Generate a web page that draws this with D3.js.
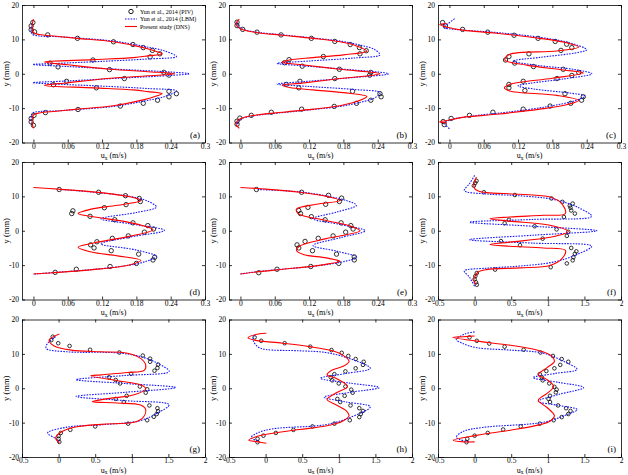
<!DOCTYPE html>
<html><head><meta charset="utf-8">
<script src="https://cdn.jsdelivr.net/npm/d3@7"></script>
<style>
body{margin:0;background:#fff}
svg{display:block}
text{font-family:"Liberation Serif","Times New Roman",serif;fill:#000}
</style>
</head><body><svg id="c" width="628" height="475"></svg>
<script>
// ---------- DATA ----------
const panelIds = ["a","b","c","d","e","f","g","h","i"];
const xTicksSmall = [0,0.06,0.12,0.18,0.24,0.3];
const xTickLabelsSmall = ["0","0.06","0.12","0.18","0.24","0.3"];
const xTicksLarge = [-0.5,0,0.5,1,1.5,2];
const xTickLabelsLarge = ["-0.5","0","0.5","1","1.5","2"];
const yTicks = [-20,-10,0,10,20];
const yTickLabels = ["-20","-10","0","10","20"];
const legendLabels = ["Yun et al., 2014 (PIV)","Yun et al., 2014 (LBM)","Present study (DNS)"];

// [u (m/s), y (mm)]
const piv_a = [[-0.001,14.9],[-0.004,13.9],[-0.004,12.8],[0.002,12.2],[0.025,11.3],[0.077,10.3],[0.140,9.3],[0.174,8.5],[0.192,7.6],[0.208,6.8],[0.221,5.8],[0.204,4.9],[0.104,4.0],[0.029,3.1],[0.043,2.0],[0.133,1.2],[0.228,0.4],[0.237,-0.4],[0.159,-1.4],[0.058,-2.2],[0.035,-3.2],[0.110,-4.1],[0.237,-5.1],[0.250,-5.8],[0.237,-6.7],[0.217,-7.7],[0.192,-8.6],[0.152,-9.4],[0.078,-10.4],[0.021,-11.3],[0.001,-12.1],[-0.004,-13.0],[-0.004,-14.0],[0.000,-15.0]];
const lbm_a = [[-0.002,14.5],[-0.004,13],[-0.002,11.5],[0.010,11.0],[0.040,10.8],[0.077,10.4],[0.140,9.5],[0.192,8.0],[0.230,6.6],[0.250,5.0],[0.200,4.3],[0.120,3.6],[0.040,3.0],[-0.001,2.7],[0.060,2.1],[0.160,1.2],[0.240,0.5],[0.273,0],[0.240,-0.5],[0.160,-1.2],[0.060,-2.1],[-0.001,-2.6],[0.040,-3.0],[0.120,-3.6],[0.200,-4.3],[0.250,-5.0],[0.230,-6.6],[0.192,-8.0],[0.140,-9.5],[0.077,-10.4],[0.040,-10.8],[0.010,-11.0],[-0.002,-11.5],[-0.004,-13],[-0.002,-14.5]];
const dns_a = [[0.000,15.9],[-0.002,14.5],[-0.002,13],[0.000,12.0],[0.010,11.4],[0.040,10.9],[0.077,10.3],[0.140,9.3],[0.192,7.6],[0.215,6.5],[0.225,5.8],[0.200,5.2],[0.175,4.7],[0.106,4.1],[0.019,3.4],[0.060,2.6],[0.134,1.3],[0.200,0.6],[0.247,0.0],[0.200,-0.6],[0.134,-1.3],[0.060,-2.6],[0.019,-3.4],[0.106,-4.1],[0.175,-4.7],[0.200,-5.2],[0.225,-5.8],[0.215,-6.5],[0.192,-7.6],[0.140,-9.3],[0.077,-10.3],[0.040,-10.9],[0.010,-11.4],[0.000,-12.0],[-0.002,-13],[-0.002,-14.5],[0.000,-15.9]];

const piv_b = [[-0.006,15.0],[-0.006,14.0],[0.004,12.9],[0.029,12.1],[0.071,11.3],[0.124,10.3],[0.165,9.4],[0.192,8.5],[0.208,7.6],[0.220,6.7],[0.209,5.8],[0.145,5.0],[0.085,4.1],[0.077,3.2],[0.108,2.2],[0.173,1.3],[0.228,0.4],[0.226,-0.4],[0.165,-1.4],[0.104,-2.2],[0.080,-3.1],[0.102,-4.1],[0.196,-5.1],[0.244,-5.8],[0.246,-6.7],[0.228,-7.7],[0.203,-8.6],[0.164,-9.5],[0.107,-10.3],[0.054,-11.2],[0.019,-12.1],[-0.001,-12.9],[-0.006,-13.8],[-0.006,-14.7]];
const lbm_b = [[-0.006,15.0],[-0.004,14],[0.003,13.0],[0.028,12.1],[0.074,11.3],[0.127,10.4],[0.174,9.5],[0.210,8.3],[0.235,7.0],[0.244,5.5],[0.200,4.6],[0.120,3.7],[0.064,3.0],[0.110,2.3],[0.190,1.2],[0.259,0],[0.190,-1.2],[0.110,-2.3],[0.064,-3.0],[0.120,-3.7],[0.200,-4.6],[0.244,-5.5],[0.235,-7.0],[0.210,-8.3],[0.174,-9.5],[0.127,-10.4],[0.074,-11.3],[0.028,-12.1],[0.003,-13.0],[-0.004,-14],[-0.006,-15.0]];
const dns_b = [[-0.002,15.9],[-0.008,14.4],[0.001,13.0],[0.028,12.0],[0.074,11.2],[0.127,10.3],[0.174,9.3],[0.203,8.1],[0.221,6.6],[0.180,5.5],[0.127,4.7],[0.086,4.0],[0.073,3.3],[0.104,2.7],[0.174,1.3],[0.244,0],[0.174,-1.4],[0.104,-2.8],[0.073,-3.3],[0.086,-4.0],[0.127,-4.7],[0.180,-5.5],[0.221,-6.6],[0.203,-8.1],[0.174,-9.3],[0.127,-10.3],[0.074,-11.2],[0.028,-12.0],[0.001,-13.0],[-0.008,-14.4],[-0.002,-15.9]];

const piv_c = [[-0.012,14.9],[-0.007,13.9],[0.023,12.9],[0.067,12.1],[0.113,11.2],[0.155,10.3],[0.185,9.4],[0.205,8.6],[0.214,7.6],[0.195,6.8],[0.139,5.8],[0.104,5.0],[0.098,4.0],[0.114,3.1],[0.147,2.1],[0.199,1.3],[0.226,0.4],[0.214,-0.5],[0.188,-1.4],[0.129,-2.2],[0.104,-3.1],[0.104,-4.1],[0.132,-4.9],[0.202,-5.8],[0.234,-6.7],[0.231,-7.7],[0.212,-8.6],[0.176,-9.4],[0.129,-10.3],[0.076,-11.2],[0.035,-12.1],[0.003,-13.0],[-0.011,-13.9],[-0.009,-14.8]];
const lbm_c = [[0.009,16.0],[-0.003,14.5],[-0.010,13.5],[0.010,12.9],[0.082,12.0],[0.158,10.6],[0.210,9.0],[0.240,7.0],[0.225,6.2],[0.160,4.8],[0.111,3.7],[0.150,2.5],[0.220,1.2],[0.249,0],[0.200,-1.5],[0.140,-2.8],[0.120,-3.5],[0.150,-4.5],[0.210,-5.6],[0.237,-6.5],[0.220,-7.8],[0.170,-9.6],[0.100,-11.2],[0.040,-12.3],[0.000,-13.5],[-0.008,-14.5],[0.000,-16.0]];
const dns_c = [[-0.005,14.6],[-0.017,14.3],[-0.005,13.6],[0.023,12.7],[0.082,11.8],[0.158,10.3],[0.205,9.0],[0.226,7.8],[0.188,6.6],[0.105,5.6],[0.097,4.0],[0.135,2.5],[0.200,1.1],[0.234,0.2],[0.180,-1.3],[0.105,-3.1],[0.096,-4.1],[0.105,-5.0],[0.188,-6.3],[0.226,-7.8],[0.205,-9.0],[0.158,-10.3],[0.082,-11.8],[0.023,-12.7],[-0.005,-13.6],[-0.017,-14.0],[-0.005,-14.3]];

const piv_d = [[0.045,12.0],[0.114,11.2],[0.161,10.2],[0.185,9.4],[0.187,8.5],[0.162,7.6],[0.124,6.7],[0.069,5.8],[0.067,5.0],[0.099,4.2],[0.142,3.2],[0.174,2.3],[0.200,1.5],[0.210,0.5],[0.194,-0.4],[0.166,-1.5],[0.138,-2.2],[0.111,-3.2],[0.100,-4.1],[0.106,-5.0],[0.136,-5.8],[0.184,-6.8],[0.212,-7.7],[0.209,-8.5],[0.180,-9.5],[0.134,-10.4],[0.075,-11.2],[0.038,-12.1]];
const lbm_d = [[0.050,12.0],[0.118,11.0],[0.171,9.9],[0.200,8.6],[0.215,6.9],[0.180,5.3],[0.118,3.5],[0.170,2.0],[0.229,0.1],[0.170,-1.8],[0.118,-3.8],[0.180,-5.6],[0.215,-7.5],[0.195,-9.0],[0.160,-10.2],[0.100,-11.3],[0.040,-12.1],[0,-12.6]];
const dns_d = [[0,12.6],[0.043,12.1],[0.118,11.1],[0.171,9.8],[0.188,8.8],[0.147,7.4],[0.101,6.3],[0.078,5.0],[0.107,4.0],[0.165,2.5],[0.209,0.3],[0.165,-1.7],[0.107,-3.5],[0.078,-4.8],[0.101,-6.2],[0.147,-7.3],[0.188,-8.6],[0.171,-9.8],[0.118,-11.1],[0.043,-12.1],[0,-12.6]];

const piv_e = [[0.028,12.0],[0.107,11.2],[0.154,10.3],[0.177,9.5],[0.173,8.5],[0.149,7.7],[0.118,6.8],[0.102,5.9],[0.105,5.0],[0.124,4.1],[0.148,3.2],[0.176,2.3],[0.193,1.5],[0.197,0.5],[0.184,-0.4],[0.162,-1.5],[0.136,-2.2],[0.113,-3.1],[0.099,-4.1],[0.102,-5.0],[0.126,-5.8],[0.168,-6.8],[0.199,-7.6],[0.199,-8.5],[0.172,-9.5],[0.123,-10.4],[0.064,-11.2],[0.032,-12.2]];
const lbm_e = [[0.030,12.0],[0.104,11.3],[0.151,10.1],[0.185,8.8],[0.203,7.4],[0.170,5.5],[0.127,3.5],[0.175,1.8],[0.218,0],[0.175,-2.0],[0.127,-4.3],[0.170,-6.0],[0.203,-7.7],[0.180,-9.0],[0.130,-10.3],[0.065,-11.3],[0.020,-12.1],[0,-12.6]];
const dns_e = [[0,12.6],[0.045,12.1],[0.104,11.2],[0.151,10.0],[0.174,8.8],[0.133,7.7],[0.098,6.3],[0.101,5.0],[0.150,3.0],[0.195,1.2],[0.209,0],[0.150,-2.3],[0.103,-4.5],[0.098,-5.7],[0.110,-6.9],[0.150,-7.9],[0.174,-8.9],[0.140,-10.0],[0.075,-11.2],[0.033,-11.9],[0,-12.6]];

const piv_f = [[0.026,14.5],[0.008,13.9],[-0.01,13.1],[0.126,11.2],[0.55,10.4],[1.05,9.4],[1.20,8.4],[1.34,7.9],[1.30,7.3],[1.31,6.7],[1.32,5.9],[1.37,5.0],[1.22,4.0],[0.47,3.2],[0.41,2.2],[0.82,1.3],[1.12,0.4],[1.28,-0.3],[1.26,-1.5],[0.93,-2.3],[0.36,-3.0],[0.62,-4.2],[1.32,-5.0],[1.39,-6.0],[1.37,-6.7],[1.35,-7.7],[1.34,-8.6],[1.26,-9.5],[1.04,-10.6],[0.28,-11.3],[0.03,-12.3],[0.01,-13.2],[0.0,-14.1],[0.02,-15.0],[0.03,-15.7]];
const lbm_f = [[0.0,16.1],[-0.07,13.7],[-0.14,11.7],[0.16,10.7],[0.60,10.2],[1.08,9.1],[1.40,6.9],[1.60,4.2],[0.80,3.3],[-0.07,2.5],[0.80,1.3],[1.67,0],[0.80,-1.3],[-0.07,-2.6],[0.80,-3.6],[1.60,-4.5],[1.40,-6.9],[1.08,-9.1],[0.60,-10.3],[0.16,-10.9],[-0.14,-11.7],[-0.07,-13.5],[0.0,-16.2]];
const dns_f = [[0.026,15.6],[-0.01,13.7],[0.003,12.2],[0.060,11.5],[0.163,11.1],[0.62,10.6],[1.03,9.8],[1.19,7.9],[1.24,5.0],[0.94,4.5],[0.48,4.0],[0.21,3.5],[0.48,2.8],[1.03,1.6],[1.28,-0.2],[1.03,-1.9],[0.48,-3.3],[0.21,-4.0],[0.48,-4.5],[0.94,-5.0],[1.24,-5.7],[1.19,-8.2],[1.03,-10.1],[0.62,-10.8],[0.163,-11.3],[0.05,-12.0],[0.0,-13.5],[-0.01,-14.6],[0.02,-15.6]];

const piv_g = [[-0.08,15.0],[-0.10,14.0],[-0.005,13.1],[0.15,12.3],[0.43,11.2],[0.83,10.4],[1.15,9.5],[1.25,8.6],[1.25,7.7],[1.36,6.9],[1.35,5.9],[1.31,5.1],[0.99,4.2],[0.69,3.2],[0.78,2.4],[0.84,1.4],[1.11,0.5],[1.21,-0.3],[1.19,-1.3],[0.93,-2.2],[0.78,-3.1],[0.89,-4.0],[1.24,-5.0],[1.35,-5.8],[1.36,-6.7],[1.34,-7.5],[1.30,-8.3],[1.21,-9.3],[0.95,-10.3],[0.50,-11.1],[0.16,-12.1],[0.03,-13.0],[0.00,-13.9],[0.00,-14.7],[0.01,-15.6]];
const lbm_g = [[-0.04,15.0],[-0.15,13.1],[-0.17,11.6],[0.12,10.6],[0.80,10.3],[1.12,9.2],[1.35,7.3],[1.51,4.9],[0.90,3.7],[0.24,2.5],[0.90,1.4],[1.60,0.2],[0.90,-1.2],[0.24,-2.4],[0.90,-3.6],[1.51,-4.8],[1.35,-7.2],[1.12,-9.4],[0.60,-10.6],[0.12,-11.3],[-0.15,-13.0],[-0.05,-14.5],[0.01,-15.5]];
const dns_g = [[0.01,15.8],[-0.13,14.0],[-0.06,12.3],[0.17,11.1],[0.58,10.6],[0.94,10.2],[1.12,8.7],[1.19,6.8],[1.17,5.2],[0.94,4.6],[0.58,3.9],[0.44,3.6],[0.80,2.2],[1.12,1.0],[1.19,-0.2],[1.03,-1.9],[0.65,-3.1],[0.46,-3.9],[0.80,-4.3],[1.12,-4.9],[1.19,-6.2],[1.15,-8.6],[1.03,-9.9],[0.58,-10.5],[0.20,-11.4],[0.03,-12.8],[-0.04,-14.4],[0.01,-15.9]];

const piv_h = [[-0.15,14.8],[-0.06,13.8],[0.26,13.1],[0.61,12.1],[0.90,11.1],[1.04,10.3],[1.13,9.4],[1.23,8.5],[1.34,7.7],[1.33,6.8],[1.23,5.8],[1.09,4.9],[0.94,4.1],[0.89,3.2],[0.91,2.3],[1.00,1.4],[1.09,0.5],[1.17,-0.4],[1.19,-1.3],[1.08,-2.2],[0.98,-3.1],[1.02,-4.0],[1.16,-5.0],[1.28,-5.8],[1.33,-6.6],[1.30,-7.5],[1.28,-8.4],[1.15,-9.3],[0.94,-10.3],[0.64,-11.1],[0.38,-12.1],[0.14,-13.0],[-0.03,-13.8],[-0.11,-14.7],[-0.11,-15.7]];
const lbm_h = [[-0.15,15.5],[-0.17,14.0],[-0.11,12.1],[0.0,11.3],[0.46,10.9],[0.82,10.4],[1.14,8.7],[1.43,5.8],[1.10,4.3],[0.75,2.9],[1.15,1.5],[1.55,0.2],[1.15,-1.2],[0.80,-2.6],[1.10,-4.0],[1.43,-5.4],[1.14,-8.6],[0.82,-10.6],[0.10,-11.8],[-0.11,-13.0],[-0.20,-14.4],[-0.10,-15.3]];
const dns_h = [[0.01,16.0],[-0.10,15.8],[-0.24,14.7],[-0.15,14.0],[0.23,13.1],[0.60,12.1],[0.91,10.9],[1.05,9.7],[1.14,7.8],[1.05,6.3],[0.91,5.3],[0.84,3.9],[0.96,2.9],[1.12,0.5],[0.96,-1.4],[0.84,-3.3],[0.96,-4.8],[1.10,-6.5],[1.14,-8.0],[1.05,-9.6],[0.82,-11.0],[0.46,-12.0],[0.10,-13.1],[-0.13,-14.1],[-0.23,-15.1],[-0.10,-15.6],[0.01,-16.0]];

const piv_i = [[-0.07,14.8],[0.03,13.8],[0.20,13.0],[0.41,12.1],[0.67,11.2],[0.90,10.4],[1.07,9.4],[1.19,8.5],[1.28,7.7],[1.17,6.8],[1.09,5.8],[0.98,5.0],[0.89,4.1],[0.92,3.1],[0.93,2.3],[1.02,1.4],[1.09,0.4],[1.12,-0.4],[1.11,-1.2],[1.03,-2.2],[1.01,-3.1],[1.03,-4.0],[1.14,-5.0],[1.25,-5.8],[1.31,-6.6],[1.28,-7.5],[1.19,-8.4],[1.08,-9.3],[0.89,-10.3],[0.63,-11.1],[0.39,-12.0],[0.18,-13.0],[0.00,-13.8],[-0.10,-14.7],[-0.11,-15.7]];
const lbm_i = [[0.0,16.4],[-0.13,15.8],[-0.25,14.2],[-0.16,13.0],[0.03,11.8],[0.49,11.1],[0.94,10.2],[1.22,7.8],[1.40,5.5],[1.10,4.3],[0.80,3.1],[1.15,1.7],[1.49,0.2],[1.15,-1.8],[0.87,-3.8],[1.15,-5.0],[1.40,-6.2],[1.22,-8.0],[0.94,-9.9],[0.11,-11.4],[-0.16,-12.6],[-0.25,-14.3],[-0.07,-15.7]];
const dns_i = [[0.0,15.2],[-0.15,15.0],[-0.30,14.8],[0.03,13.7],[0.49,12.5],[0.85,11.1],[1.03,9.7],[1.09,7.8],[0.99,6.0],[0.87,3.9],[0.99,2.5],[1.08,0.5],[0.99,-1.5],[0.87,-3.5],[0.99,-5.6],[1.09,-8.0],[1.03,-9.6],[0.85,-10.8],[0.49,-12.2],[0.03,-13.7],[-0.29,-15.1],[-0.15,-15.6],[0.0,-15.6]];

const pivAll = [piv_a,piv_b,piv_c,piv_d,piv_e,piv_f,piv_g,piv_h,piv_i];
const lbmAll = [lbm_a,lbm_b,lbm_c,lbm_d,lbm_e,lbm_f,lbm_g,lbm_h,lbm_i];
const dnsAll = [dns_a,dns_b,dns_c,dns_d,dns_e,dns_f,dns_g,dns_h,dns_i];

// ---------- LAYOUT ----------
const colLeft = [22, 229, 438];
const rowTop = [5, 162, 319.5];
const W = 183, H = 137.5;
const RED = "#ff0000", BLUE = "#1a1aff";

const svg = d3.select("#c");
svg.append("rect").attr("width",628).attr("height",475).attr("fill","#fff");

panelIds.forEach((id, i) => {
  const col = i % 3, row = Math.floor(i / 3);
  const large = i >= 5;
  const x = d3.scaleLinear().domain(large ? [-0.5, 2] : [-0.02, 0.3]).range([0, W]);
  const y = d3.scaleLinear().domain([-20, 20]).range([H, 0]);
  const ticksX = large ? xTicksLarge : xTicksSmall;
  const labsX = large ? xTickLabelsLarge : xTickLabelsSmall;

  const g = svg.append("g").attr("transform", `translate(${colLeft[col]},${rowTop[row]})`);
  g.append("clipPath").attr("id", "cp" + id).append("rect").attr("width", W).attr("height", H);
  const plot = g.append("g").attr("clip-path", `url(#cp${id})`);

  const line = d3.line().x(d => x(d[0])).y(d => y(d[1])).curve(d3.curveCatmullRom.alpha(0.5));

  const r = large ? 1.8 : 2.2;
  plot.selectAll("circle.piv").data(pivAll[i]).join("circle")
    .attr("class","piv").attr("cx", d => x(d[0])).attr("cy", d => y(d[1])).attr("r", r)
    .attr("fill","none").attr("stroke","#000").attr("stroke-width",0.8);
  plot.append("path").datum(lbmAll[i]).attr("d", line)
    .attr("fill","none").attr("stroke",BLUE).attr("stroke-width",1.1).attr("stroke-dasharray","1.6,1.2");
  plot.append("path").datum(dnsAll[i]).attr("d", line)
    .attr("fill","none").attr("stroke",RED).attr("stroke-width",1.1);

  // axes
  const fmtX = d => labsX[ticksX.indexOf(d)];
  const fmtY = d => yTickLabels[yTicks.indexOf(d)];
  const ax = g.append("g").attr("transform",`translate(0,${H})`)
    .call(d3.axisBottom(x).tickValues(ticksX).tickFormat(fmtX).tickSizeInner(-3).tickSizeOuter(0).tickPadding(1));
  const at = g.append("g")
    .call(d3.axisTop(x).tickValues(ticksX).tickFormat("").tickSizeInner(-3).tickSizeOuter(0));
  const al = g.append("g")
    .call(d3.axisLeft(y).tickValues(yTicks).tickFormat(fmtY).tickSizeInner(-3).tickSizeOuter(0).tickPadding(3));
  const ar = g.append("g").attr("transform",`translate(${W},0)`)
    .call(d3.axisRight(y).tickValues(yTicks).tickFormat("").tickSizeInner(-3).tickSizeOuter(0));
  [ax,at,al,ar].forEach(a => {
    a.select(".domain").attr("stroke","#000").attr("stroke-width",0.8);
    a.selectAll(".tick line").attr("stroke","#000").attr("stroke-width",0.8);
    a.selectAll("text").attr("font-size",7.5).attr("font-family",'"Liberation Serif",serif').attr("fill","#000");
  });

  // axis labels
  const xl = g.append("text").attr("x", W/2).attr("y", H + 15.5).attr("text-anchor","middle").attr("font-size",8);
  xl.append("tspan").text("u");
  xl.append("tspan").attr("font-size",5.5).attr("dy",1.8).text("x");
  xl.append("tspan").attr("dy",-1.8).text(" (m/s)");
  g.append("text").attr("transform",`translate(-13,${H/2}) rotate(-90)`)
    .attr("text-anchor","middle").attr("font-size",8.5).text("y (mm)");

  // panel label
  g.append("text").attr("x", W - 5).attr("y", H - 5).attr("text-anchor","end").attr("font-size",9).text(`(${id})`);

  // legend in panel (a)
  if (i === 0) {
    const lg = g.append("g");
    const rows = [6.5, 14, 21.5];
    const lx0 = 103, lx1 = 115, tx = 118;
    lg.append("circle").attr("cx",(lx0+lx1)/2).attr("cy",rows[0]).attr("r",2.2)
      .attr("fill","none").attr("stroke","#000").attr("stroke-width",0.9);
    lg.append("line").attr("x1",lx0).attr("x2",lx1).attr("y1",rows[1]).attr("y2",rows[1])
      .attr("stroke",BLUE).attr("stroke-width",1.1).attr("stroke-dasharray","1.6,1.2");
    lg.append("line").attr("x1",lx0).attr("x2",lx1).attr("y1",rows[2]).attr("y2",rows[2])
      .attr("stroke",RED).attr("stroke-width",1.1);
    legendLabels.forEach((t, k) => {
      lg.append("text").attr("x",tx).attr("y",rows[k]+2).attr("font-size",6).text(t);
    });
  }
});
</script>
</body></html>
